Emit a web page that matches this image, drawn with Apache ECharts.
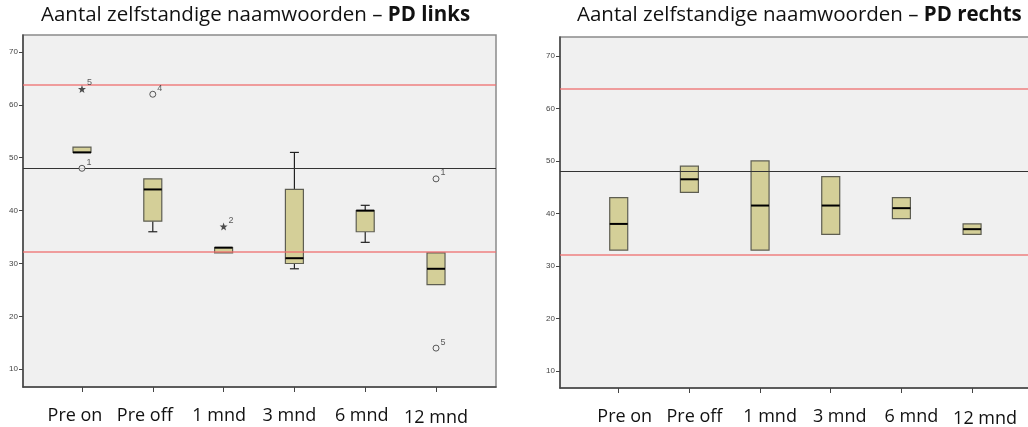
<!DOCTYPE html>
<html>
<head>
<meta charset="utf-8">
<script src="https://cdn.jsdelivr.net/npm/echarts@6/dist/echarts.min.js"></script>
<style>
html,body{margin:0;padding:0;background:#ffffff;}
#chart{width:1028px;height:427px;}
</style>
</head>
<body>
<div id="chart"></div>
<script>
// ---------- data ----------
const categories = ['Pre on', 'Pre off', '1 mnd', '3 mnd', '6 mnd', '12 mnd'];
const yTicks = [10, 20, 30, 40, 50, 60, 70];
const refLines = [63.8, 48, 32.2];

// PD links
const leftMin    = [51, 36, 32, 29, 34, 26];
const leftQ1     = [51, 38, 32, 30, 36, 26];
const leftMedian = [51, 44, 33, 31, 40, 29];
const leftQ3     = [52, 46, 33, 44, 40, 32];
const leftMax    = [52, 46, 33, 51, 41, 32];
const leftOutlierCat   = [0, 0, 1, 2, 5, 5];
const leftOutlierValue = [48, 63, 62, 37, 46, 14];
const leftOutlierId    = ['1', '5', '4', '2', '1', '5'];
const leftOutlierKind  = ['circle', 'star', 'circle', 'star', 'circle', 'circle'];

// PD rechts
const rightMin    = [33, 44, 33, 36, 39, 36];
const rightQ1     = [33, 44, 33, 36, 39, 36];
const rightMedian = [38, 46.5, 41.5, 41.5, 41, 37];
const rightQ3     = [43, 49, 50, 47, 43, 38];
const rightMax    = [43, 49, 50, 47, 43, 38];

// ---------- chart ----------
const FONT = 'Open Sans';
const BOX_FILL = '#d4cf98';
const BOX_STROKE = '#5e5e52';
const STAR = 'path://M0,-10 L2.35,-3.24 L9.51,-3.09 L3.8,1.24 L5.88,8.09 L0,4 L-5.88,8.09 L-3.8,1.24 L-9.51,-3.09 L-2.35,-3.24 Z';
// horizontal nudges (px) of the hand-placed category labels in the slide
const labelShift = [[-7, -8, -4.5, -5, -3.5, 0], [6, 5, 10, 9, 10, 13]];

function boxData(mn, q1, md, q3, mx) {
  return categories.map((c, i) => [i, mn[i], q1[i], md[i], q3[i], mx[i]]);
}

function renderBox(params, api) {
  const x = api.value(0);
  const mn = api.value(1), q1 = api.value(2), md = api.value(3), q3 = api.value(4), mx = api.value(5);
  const pMin = api.coord([x, mn]);
  const pQ1 = api.coord([x, q1]);
  const pMd = api.coord([x, md]);
  const pQ3 = api.coord([x, q3]);
  const pMax = api.coord([x, mx]);
  const cx = pQ1[0];
  const hw = 9, cap = 4.5;
  const children = [];
  const wStyle = { stroke: '#222', lineWidth: 1.2 };
  if (mx > q3) {
    children.push({ type: 'line', shape: { x1: cx, y1: pMax[1], x2: cx, y2: pQ3[1] }, style: wStyle });
    children.push({ type: 'line', shape: { x1: cx - cap, y1: pMax[1], x2: cx + cap, y2: pMax[1] }, style: wStyle });
  }
  if (mn < q1) {
    children.push({ type: 'line', shape: { x1: cx, y1: pMin[1], x2: cx, y2: pQ1[1] }, style: wStyle });
    children.push({ type: 'line', shape: { x1: cx - cap, y1: pMin[1], x2: cx + cap, y2: pMin[1] }, style: wStyle });
  }
  children.push({
    type: 'rect',
    shape: { x: cx - hw, y: pQ3[1], width: 2 * hw, height: pQ1[1] - pQ3[1] },
    style: { fill: BOX_FILL, stroke: BOX_STROKE, lineWidth: 1.2 }
  });
  children.push({ type: 'line', shape: { x1: cx - hw, y1: pMd[1], x2: cx + hw, y2: pMd[1] }, style: { stroke: '#000', lineWidth: 2 } });
  return { type: 'group', children: children };
}

const grids = [
  { left: 23, top: 35, width: 473, height: 352 },
  { left: 560, top: 37, width: 472, height: 351 }
];
const xRanges = [[-0.833, 5.847], [-0.831, 5.848]];
const yRanges = [[6.65, 73.2], [6.75, 73.6]];

function labelRich(i) {
  const rich = {};
  labelShift[i].forEach((d, k) => {
    const top = k === categories.length - 1 ? 2 : 0;
    rich['r' + k] = {
      fontFamily: FONT, fontSize: 18, color: '#111',
      padding: [top, d < 0 ? -2 * d : 0, 0, d > 0 ? 2 * d : 0]
    };
  });
  return rich;
}

function xAxisFor(i) {
  return {
    type: 'value', gridIndex: i, min: xRanges[i][0], max: xRanges[i][1],
    splitLine: { show: false },
    axisLine: { show: true, onZero: false, lineStyle: { color: '#444', width: 1.5 } },
    axisTick: { show: true, length: 5, lineStyle: { color: '#444' }, customValues: categories.map((c, k) => k) },
    axisLabel: {
      show: true, customValues: categories.map((c, k) => k), margin: 20,
      formatter: v => {
        const k = Math.round(v);
        return '{r' + k + '|' + categories[k] + '}';
      },
      rich: labelRich(i),
      fontFamily: FONT, fontSize: 18, color: '#111'
    }
  };
}
function yAxisFor(i) {
  return {
    type: 'value', gridIndex: i, min: yRanges[i][0], max: yRanges[i][1],
    splitLine: { show: false },
    axisLine: { show: true, onZero: false, lineStyle: { color: '#444', width: 1.5 } },
    axisTick: { show: true, length: 4, lineStyle: { color: '#444' }, customValues: yTicks },
    axisLabel: { show: true, customValues: yTicks, margin: 5, fontFamily: 'Liberation Sans', fontSize: 8, color: '#444' }
  };
}

function refLineSeries(i) {
  return {
    type: 'line', xAxisIndex: i, yAxisIndex: i, data: [], z: 5, silent: true,
    markLine: {
      silent: true, symbol: 'none', label: { show: false }, animation: false,
      data: refLines.map(v => ({
        yAxis: v,
        lineStyle: v === 48 ? { color: '#333', width: 1, type: 'solid' } : { color: 'rgba(238,110,110,0.65)', width: 2, type: 'solid' }
      }))
    }
  };
}

const titleRich = {
  a: { fontFamily: FONT, fontSize: 20.5, color: '#111', fontWeight: 'normal' },
  b: { fontFamily: FONT, fontSize: 20.5, color: '#111', fontWeight: 'bold' }
};

const option = {
  animation: false,
  backgroundColor: '#ffffff',
  title: [
    { text: '{a|Aantal zelfstandige naamwoorden – }{b|PD links}', left: 41, top: 5, padding: 0, textStyle: { fontWeight: 'normal', rich: titleRich } },
    { text: '{a|Aantal zelfstandige naamwoorden – }{b|PD rechts}', left: 577, top: 5, padding: 0, textStyle: { fontWeight: 'normal', rich: titleRich } }
  ],
  grid: grids.map(g => Object.assign({ show: true, containLabel: false, outerBoundsMode: 'none', backgroundColor: '#f0f0f0', borderColor: '#8a8a8a', borderWidth: 1.5 }, g)),
  xAxis: [xAxisFor(0), xAxisFor(1)],
  yAxis: [yAxisFor(0), yAxisFor(1)],
  series: [
    { type: 'custom', xAxisIndex: 0, yAxisIndex: 0, renderItem: renderBox, data: boxData(leftMin, leftQ1, leftMedian, leftQ3, leftMax), z: 2, silent: true },
    { type: 'custom', xAxisIndex: 1, yAxisIndex: 1, renderItem: renderBox, data: boxData(rightMin, rightQ1, rightMedian, rightQ3, rightMax), z: 2, silent: true },
    refLineSeries(0),
    refLineSeries(1),
    {
      type: 'scatter', xAxisIndex: 0, yAxisIndex: 0, z: 6, silent: true,
      data: leftOutlierCat.map((c, k) => ({
        value: [c, leftOutlierValue[k]],
        symbol: leftOutlierKind[k] === 'star' ? STAR : 'circle',
        symbolSize: leftOutlierKind[k] === 'star' ? 8 : 6,
        itemStyle: leftOutlierKind[k] === 'star' ? { color: '#222', borderWidth: 0 } : { color: '#f0f0f0', borderColor: '#333', borderWidth: 1 },
        label: { formatter: leftOutlierId[k] }
      })),
      label: { show: true, position: 'right', distance: 1, offset: [0, -6], fontFamily: 'Liberation Sans', fontSize: 9, color: '#333' }
    }
  ]
};

const chart = echarts.init(document.getElementById('chart'), null, { renderer: 'canvas' });
chart.setOption(option);
</script>
</body>
</html>
